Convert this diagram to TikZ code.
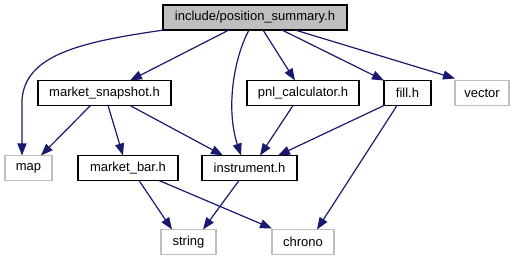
\documentclass[tikz,border=0pt]{standalone}
\usepackage{fontspec}
\setmainfont{Liberation Sans}
\usetikzlibrary{arrows.meta}
\definecolor{edgeblue}{HTML}{191970}
\definecolor{extgrey}{HTML}{BFBFBF}
\tikzset{
  hdr/.style={draw=black, line width=1.2pt, fill=white, inner sep=0pt, outer sep=0pt,
    minimum height=25pt, font=\fontsize{13}{15}\selectfont},
  mainhdr/.style={hdr, fill=extgrey},
  syshdr/.style={hdr, draw=extgrey},
  dep/.style={draw=edgeblue, line width=1.2pt,
    -{Triangle[length=12pt,width=9pt]}, edgeblue}
}
\begin{document}
\begin{tikzpicture}[x=1pt,y=-1pt]
\useasboundingbox (0,0) rectangle (519,261);
% headers
\node[mainhdr, minimum width=184pt] (top) at (255,17.5) {include/position\_summary.h};
\node[hdr, minimum width=133pt] (snap) at (104.5,93) {market\_snapshot.h};
\node[hdr, minimum width=112pt] (pnl) at (303,93) {pnl\_calculator.h};
\node[hdr, minimum width=47pt] (fill) at (407.5,93) {fill.h};
\node[syshdr, minimum width=54pt] (vector) at (482,93) {vector};
\node[syshdr, minimum width=47pt] (map) at (28.5,168) {map};
\node[hdr, minimum width=100pt] (bar) at (128,168) {market\_bar.h};
\node[hdr, minimum width=95pt] (instr) at (249.5,168) {instrument.h};
\node[syshdr, minimum width=55pt] (string) at (188.5,242) {string};
\node[syshdr, minimum width=62pt] (chrono) at (303,242) {chrono};
% includes of position_summary.h
\draw[dep] ([xshift=1]top.south west) .. controls (80,42) and (25,55) .. (22,100)
  -- ([xshift=-6.5]map.north);
\draw[dep] ([xshift=-26]top.south) -- ([xshift=25.5]snap.north);
\draw[dep] ([xshift=-6]top.south) .. controls (233,60) and (226,110) .. ([xshift=-8.5]instr.north);
\draw[dep] ([xshift=8]top.south) -- ([xshift=-8]pnl.north);
\draw[dep] ([xshift=27]top.south) -- (fill.north west);
\draw[dep] ([xshift=40]top.south) -- ([yshift=2]vector.north west);
% includes of market_snapshot.h
\draw[dep] ([xshift=-14]snap.south) -- ([xshift=12.5]map.north);
\draw[dep] ([xshift=3.5]snap.south) -- ([xshift=-5]bar.north);
\draw[dep] ([xshift=25.5]snap.south) -- ([xshift=-26.5]instr.north);
% includes of pnl_calculator.h and fill.h
\draw[dep] ([xshift=-10]pnl.south) -- ([xshift=10.5]instr.north);
\draw[dep] (fill.south west) -- ([xshift=28.5]instr.north);
\draw[dep] ([xshift=-10.5]fill.south) -- ([xshift=14]chrono.north);
% includes of market_bar.h and instrument.h
\draw[dep] ([xshift=11]bar.south) -- ([xshift=-16.5]string.north);
\draw[dep] ([xshift=31]bar.south) -- ([yshift=1]chrono.north west);
\draw[dep] ([xshift=-10.5]instr.south) -- ([xshift=14.5]string.north);
\end{tikzpicture}
\end{document}
